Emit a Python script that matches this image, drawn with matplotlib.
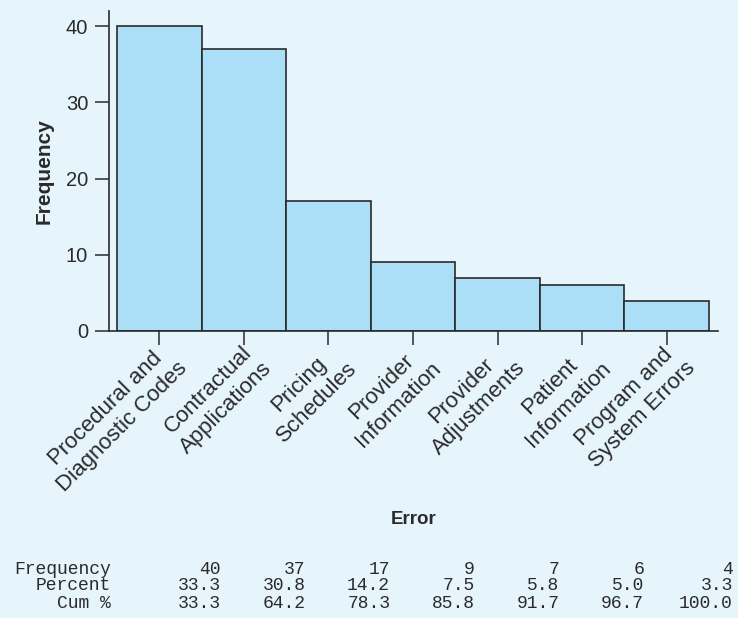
import matplotlib.pyplot as plt
import matplotlib.transforms as mtransforms

# Pareto chart data
categories = ['Procedural and\nDiagnostic Codes', 'Contractual\nApplications',
              'Pricing\nSchedules', 'Provider\nInformation', 'Provider\nAdjustments',
              'Patient\nInformation', 'Program and\nSystem Errors']
frequency = [40, 37, 17, 9, 7, 6, 4]
percent = ['33.3', '30.8', '14.2', '7.5', '5.8', '5.0', '3.3']
cum_pct = ['33.3', '64.2', '78.3', '85.8', '91.7', '96.7', '100.0']
row_labels = ['Frequency', 'Percent', 'Cum %']

bg = '#e6f4fc'
bar_color = '#abdff8'
dark = '#2a2a2a'

plt.rcParams['font.family'] = ['Liberation Sans', 'DejaVu Sans']

fig = plt.figure(figsize=(7.38, 6.18), dpi=100, facecolor=bg)
ax = fig.add_axes([109 / 738, 1 - 331 / 618, (718 - 109) / 738, (331 - 11) / 618])
ax.set_facecolor(bg)

x = list(range(len(categories)))
ax.bar(x, frequency, width=1.0, color=bar_color, edgecolor=dark, linewidth=1.2)

ax.set_xlim(-0.595, 6.606)
ax.set_ylim(0, 42)
ax.set_yticks([0, 10, 20, 30, 40])
ax.set_xticks(x)
ax.set_xticklabels(categories, rotation=45, ha='right', va='top',
                   rotation_mode='anchor', multialignment='center',
                   fontsize=16, color=dark, linespacing=1.25)
ax.tick_params(axis='y', labelsize=14.5, colors=dark, length=10, width=1.1, pad=5)
ax.tick_params(axis='x', colors=dark, length=10, width=1.1, pad=0)
# nudge x tick labels so the upper-right corner sits just right of the tick
offset = mtransforms.ScaledTranslation(0 / 100, 5 / 100, fig.dpi_scale_trans)
for lab in ax.get_xticklabels():
    lab.set_transform(lab.get_transform() + offset)

for side in ['top', 'right']:
    ax.spines[side].set_visible(False)
for side in ['left', 'bottom']:
    ax.spines[side].set_color(dark)
    ax.spines[side].set_linewidth(1.2)

ax.set_ylabel('Frequency', fontsize=15, fontweight='bold', color=dark, labelpad=9)
fig.text(413.5 / 738, 1 - 519 / 618, 'Error', fontsize=13.5, fontweight='bold',
         color=dark, ha='center', va='center')

# Minitab-style table below the chart
trans = mtransforms.blended_transform_factory(ax.transData, fig.transFigure)
rows = [[str(v) for v in frequency], percent, cum_pct]
row_y = [569, 586, 603]
for label, vals, yy in zip(row_labels, rows, row_y):
    yf = 1 - yy / 618
    fig.text(111 / 738, yf, label, fontsize=13, family='Liberation Mono',
             color=dark, ha='right', va='center')
    for i, v in enumerate(vals):
        xo = 0.73 if i < len(vals) - 1 else 0.78
        fig.text(i + xo, yf, v, transform=trans, fontsize=13,
                 family='Liberation Mono', color=dark, ha='right', va='center')

fig.savefig('out.png', dpi=100, facecolor=bg)
